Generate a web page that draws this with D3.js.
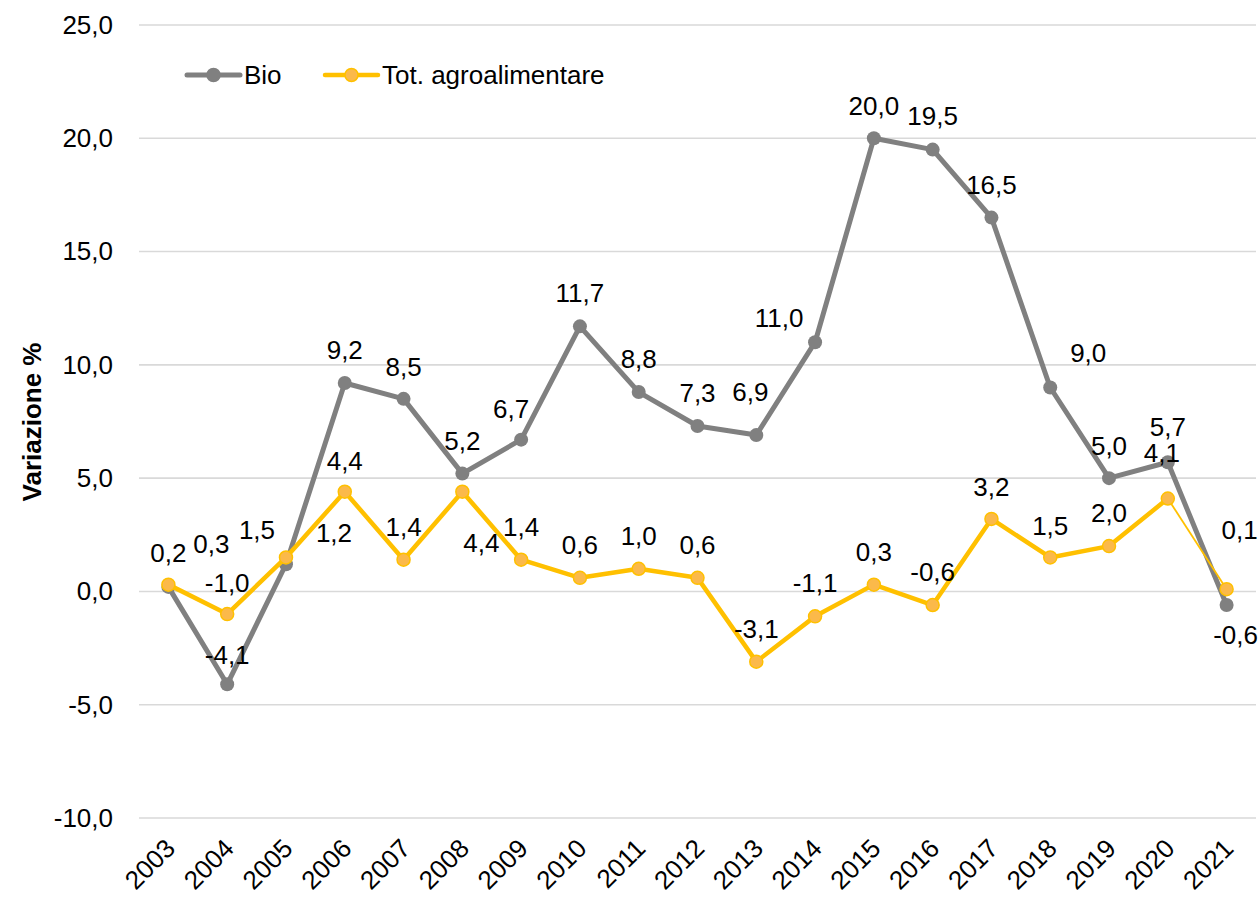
<!DOCTYPE html>
<html>
<head>
<meta charset="utf-8">
<script src="https://cdn.jsdelivr.net/npm/d3@7"></script>
<style>
  html, body { margin: 0; padding: 0; background: #fff; }
  svg { display: block; }
  text { font-family: "Liberation Sans", Arial, sans-serif; fill: #000; }
</style>
</head>
<body>
<svg id="chart" width="1260" height="899"></svg>
<script>
// ---- data ----
const years = ["2003","2004","2005","2006","2007","2008","2009","2010","2011","2012",
               "2013","2014","2015","2016","2017","2018","2019","2020","2021"];
const bio = [0.2, -4.1, 1.2, 9.2, 8.5, 5.2, 6.7, 11.7, 8.8, 7.3,
             6.9, 11.0, 20.0, 19.5, 16.5, 9.0, 5.0, 5.7, -0.6];
const totAgro = [0.3, -1.0, 1.5, 4.4, 1.4, 4.4, 1.4, 0.6, 1.0, 0.6,
                 -3.1, -1.1, 0.3, -0.6, 3.2, 1.5, 2.0, 4.1, 0.1];
const yTicks = [-10, -5, 0, 5, 10, 15, 20, 25];
const seriesNames = ["Bio", "Tot. agroalimentare"];
const yTitle = "Variazione %";

// ---- label placement (layout only) ----
const bioLabelOffsets = [[0,-34],[0,-29],[48,-31],[0,-33],[0,-32],[0,-33],[-10,-31],[0,-33],[0,-33],[0,-33],
                         [-6,-43],[-36,-24],[0,-32],[0,-34],[0,-33],[38,-35],[0,-32],[0,-35],[9,30]];
const totLabelOffsets = [[43,-41],[0,-31],[-29,-28],[0,-31],[0,-33],[19,51],[0,-33],[0,-33],[0,-33],[0,-33],
                         [0,-33],[0,-33],[0,-33],[0,-33],[0,-32],[0,-32],[0,-33],[-6,-46],[13,-59]];

const FS = 26;
const loc = d3.formatLocale({decimal: ",", thousands: ".", grouping: [3], currency: ["", "€"], minus: "-"});
const fmt = loc.format(".1f");

const svg = d3.select("#chart");
const mLeft = 139, mRight = 1256, mTop = 25, mBottom = 818;

const x = d3.scalePoint().domain(years).range([mLeft, mRight]).padding(0.5);
const y = d3.scaleLinear().domain([-10, 25]).range([mBottom, mTop]);

// gridlines
svg.append("g").selectAll("line").data(yTicks).join("line")
  .attr("x1", mLeft).attr("x2", mRight)
  .attr("y1", d => y(d)).attr("y2", d => y(d))
  .attr("stroke", "#d9d9d9").attr("stroke-width", 1.6);

// y axis tick labels
const yAxis = d3.axisLeft(y).tickValues(yTicks).tickFormat(fmt).tickSize(0).tickPadding(26);
const gy = svg.append("g").attr("transform", `translate(${mLeft},0)`).call(yAxis);
gy.select(".domain").remove();
gy.selectAll("text").attr("font-size", FS).attr("fill", "#000")
  .style("font-family", '"Liberation Sans", Arial, sans-serif');

// x axis tick labels (rotated)
const xAxis = d3.axisBottom(x).tickSize(0).tickPadding(0);
const gx = svg.append("g").attr("transform", `translate(0,845)`).call(xAxis);
gx.select(".domain").remove();
gx.selectAll("text")
  .attr("font-size", FS).attr("fill", "#000")
  .style("font-family", '"Liberation Sans", Arial, sans-serif')
  .attr("text-anchor", "end")
  .attr("y", 0).attr("x", 2).attr("dy", "0.35em")
  .attr("transform", "rotate(-45)");

// y title
svg.append("text")
  .attr("transform", `translate(41,422) rotate(-90)`)
  .attr("text-anchor", "middle")
  .attr("font-size", FS).attr("font-weight", "bold")
  .text(yTitle);

const gray = "#808080", yellow = "#FFC000", yellowFill = "#FBB94A";

const line = d3.line().x(d => x(d.year)).y(d => y(d.v));
const bioData = years.map((yr, i) => ({year: yr, v: bio[i], i}));
const totData = years.map((yr, i) => ({year: yr, v: totAgro[i], i}));

// Bio series
svg.append("path").datum(bioData).attr("d", line)
  .attr("fill", "none").attr("stroke", gray).attr("stroke-width", 5)
  .attr("stroke-linejoin", "round").attr("stroke-linecap", "round");
svg.append("g").selectAll("circle").data(bioData).join("circle")
  .attr("cx", d => x(d.year)).attr("cy", d => y(d.v)).attr("r", 7)
  .attr("fill", gray);

// Tot series (last segment thinner)
svg.append("path").datum(totData.slice(0, totData.length - 1)).attr("d", line)
  .attr("fill", "none").attr("stroke", yellow).attr("stroke-width", 4.5)
  .attr("stroke-linejoin", "round").attr("stroke-linecap", "round");
svg.append("path").datum(totData.slice(totData.length - 2)).attr("d", line)
  .attr("fill", "none").attr("stroke", yellow).attr("stroke-width", 1.8);
svg.append("g").selectAll("circle").data(totData).join("circle")
  .attr("cx", d => x(d.year)).attr("cy", d => y(d.v)).attr("r", 6.5)
  .attr("fill", yellowFill).attr("stroke", yellow).attr("stroke-width", 1.5);

// data labels
function labels(data, offsets) {
  svg.append("g").selectAll("text").data(data).join("text")
    .attr("x", d => x(d.year) + offsets[d.i][0])
    .attr("y", d => y(d.v) + offsets[d.i][1])
    .attr("dy", "0.35em")
    .attr("text-anchor", "middle")
    .attr("font-size", FS)
    .text(d => fmt(d.v));
}
labels(bioData, bioLabelOffsets);
labels(totData, totLabelOffsets);

// legend
const legend = svg.append("g");
const legendItems = [
  {name: seriesNames[0], x0: 187, stroke: gray, fill: gray, sw: 5},
  {name: seriesNames[1], x0: 325, stroke: yellow, fill: yellowFill, sw: 4.5}
];
legendItems.forEach(it => {
  legend.append("line").attr("x1", it.x0).attr("x2", it.x0 + 53)
    .attr("y1", 75).attr("y2", 75)
    .attr("stroke", it.stroke).attr("stroke-width", it.sw).attr("stroke-linecap", "round");
  legend.append("circle").attr("cx", it.x0 + 26.5).attr("cy", 75).attr("r", 6.5)
    .attr("fill", it.fill).attr("stroke", it.stroke).attr("stroke-width", 1.5);
  legend.append("text").attr("x", it.x0 + 57).attr("y", 75).attr("dy", "0.35em")
    .attr("font-size", FS).text(it.name);
});
</script>
</body>
</html>
